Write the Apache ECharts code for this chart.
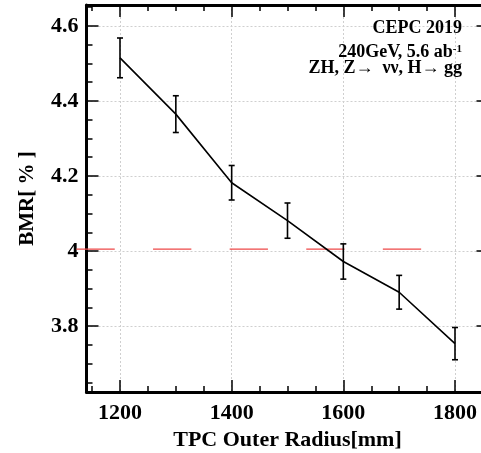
<!DOCTYPE html>
<html>
<head>
<meta charset="utf-8">
<script src="https://cdn.jsdelivr.net/npm/echarts@6/dist/echarts.min.js"></script>
<style>
html,body{margin:0;padding:0;background:#fff;}
#chart{width:481px;height:453px;}
</style>
</head>
<body>
<div id="chart"></div>
<script>
// ---- data ----
const radius = [1200, 1300, 1400, 1500, 1600, 1700, 1800];
const bmr    = [4.515, 4.365, 4.182, 4.081, 3.972, 3.890, 3.753];
const bmrErr = [0.053, 0.049, 0.046, 0.047, 0.047, 0.045, 0.043];
const refLineX = [1122, 1740];
const refLineY = 4.005;
const xMajorTicks = [1200, 1400, 1600, 1800];
const xMinorTicks = [1150, 1250, 1300, 1350, 1450, 1500, 1550, 1650, 1700, 1750, 1850];
const yMajorTicks = [3.8, 4.0, 4.2, 4.4, 4.6];
const yMinorTicks = [3.65, 3.7, 3.75, 3.85, 3.9, 3.95, 4.05, 4.1, 4.15, 4.25, 4.3, 4.35, 4.45, 4.5, 4.55, 4.65];
const xTitle = 'TPC Outer Radius[mm]';
const yTitle = 'BMR[ % ]';
const legendLines = ['CEPC 2019', '240GeV, 5.6 ab', 'ZH, Z\u2192  \u03bd\u03bd, H\u2192 gg'];

const FONT = 'Liberation Serif';
const X_MIN = 1140, X_MAX = 1860, Y_MIN = 3.624, Y_MAX = 4.656;

const chart = echarts.init(document.getElementById('chart'), null, {renderer: 'canvas'});

const frameLine = {show: true, onZero: false, lineStyle: {color: '#000', width: 3}};
const gridLine = {show: true, lineStyle: {color: '#cfcfcf', width: 1, type: [2, 2]}};

function xAx(pos, major, opts) {
  return Object.assign({
    type: 'value', min: X_MIN, max: X_MAX, position: pos, gridIndex: 0,
    axisLine: major ? frameLine : {show: false},
    axisTick: {show: true, inside: true, length: major ? 12 : 6,
               customValues: major ? xMajorTicks : xMinorTicks,
               lineStyle: {color: '#000', width: 1.5}},
    axisLabel: {show: false},
    splitLine: {show: false}
  }, opts || {});
}
function yAx(pos, major, opts) {
  return Object.assign({
    type: 'value', min: Y_MIN, max: Y_MAX, position: pos, gridIndex: 0,
    axisLine: major ? frameLine : {show: false},
    axisTick: {show: true, inside: true, length: major ? 12 : 6,
               customValues: major ? yMajorTicks : yMinorTicks,
               lineStyle: {color: '#000', width: 1.5}},
    axisLabel: {show: false},
    splitLine: {show: false}
  }, opts || {});
}

const option = {
  animation: false,
  backgroundColor: '#fff',
  grid: {left: 86.5, width: 402, top: 5, height: 387, containLabel: false, outerBoundsMode: 'none'},
  xAxis: [
    xAx('bottom', true, {
      name: xTitle, nameLocation: 'middle', nameGap: 29,
      nameTextStyle: {fontFamily: FONT, fontWeight: 'bold', fontSize: 22, color: '#000'},
      axisLabel: {show: true, customValues: xMajorTicks, margin: 10,
                  formatter: v => String(v),
                  fontFamily: FONT, fontWeight: 'bold', fontSize: 22, color: '#000'},
      splitLine: gridLine
    }),
    xAx('bottom', false),
    xAx('top', true),
    xAx('top', false)
  ],
  yAxis: [
    yAx('left', true, {
      name: yTitle, nameLocation: 'middle', nameGap: 48,
      nameTextStyle: {fontFamily: FONT, fontWeight: 'bold', fontSize: 21, color: '#000'},
      axisLabel: {show: true, customValues: yMajorTicks, margin: 8,
                  formatter: v => String(Math.round(v * 10) / 10),
                  fontFamily: FONT, fontWeight: 'bold', fontSize: 22, color: '#000'},
      splitLine: gridLine
    }),
    yAx('left', false),
    yAx('right', true),
    yAx('right', false)
  ],
  series: [
    {
      type: 'custom', name: 'ref', xAxisIndex: 0, yAxisIndex: 0, z: 1, silent: true, clip: false,
      data: [[refLineX[0], refLineX[1], refLineY]],
      renderItem: function (params, api) {
        const p0 = api.coord([api.value(0), api.value(2)]);
        const p1 = api.coord([api.value(1), api.value(2)]);
        return {type: 'line', shape: {x1: p0[0], y1: p0[1], x2: p1[0], y2: p1[1]},
                style: {stroke: '#ee4848', lineWidth: 1.2, lineDash: [38.3, 38.3]}};
      }
    },
    {
      type: 'line', name: 'BMR', xAxisIndex: 0, yAxisIndex: 0,
      data: radius.map((r, i) => [r, bmr[i]]),
      symbol: 'none', z: 3,
      lineStyle: {color: '#000', width: 1.6}
    },
    {
      type: 'custom', name: 'err', xAxisIndex: 0, yAxisIndex: 0, z: 4,
      data: radius.map((r, i) => [r, bmr[i] - bmrErr[i], bmr[i] + bmrErr[i]]),
      renderItem: function (params, api) {
        const x = api.value(0);
        const pLo = api.coord([x, api.value(1)]);
        const pHi = api.coord([x, api.value(2)]);
        const w = 3;
        const st = {stroke: '#000', lineWidth: 1.6};
        return {type: 'group', children: [
          {type: 'line', shape: {x1: pHi[0], y1: pHi[1], x2: pLo[0], y2: pLo[1]}, style: st},
          {type: 'line', shape: {x1: pHi[0] - w, y1: pHi[1], x2: pHi[0] + w, y2: pHi[1]}, style: st},
          {type: 'line', shape: {x1: pLo[0] - w, y1: pLo[1], x2: pLo[0] + w, y2: pLo[1]}, style: st}
        ]};
      }
    }
  ],
  graphic: [
    {type: 'text', x: 462, y: 28.5, z: 10,
     style: {text: legendLines[0], textAlign: 'right', textVerticalAlign: 'middle',
             font: 'bold 18px "Liberation Serif"', fill: '#000'}},
    {type: 'text', x: 462, y: 52.5, z: 10,
     style: {text: '{a|' + legendLines[1] + '}{s|-1}', textAlign: 'right', textVerticalAlign: 'middle',
             fill: '#000',
             rich: {a: {fontFamily: FONT, fontWeight: 'bold', fontSize: 18, lineHeight: 18},
                    s: {fontFamily: FONT, fontWeight: 'bold', fontSize: 11, verticalAlign: 'top', lineHeight: 18}}}},
    {type: 'text', x: 462, y: 68, z: 10,
     style: {text: legendLines[2], textAlign: 'right', textVerticalAlign: 'middle',
             font: 'bold 18px "Liberation Serif"', fill: '#000'}}
  ]
};
chart.setOption(option);
</script>
</body>
</html>
